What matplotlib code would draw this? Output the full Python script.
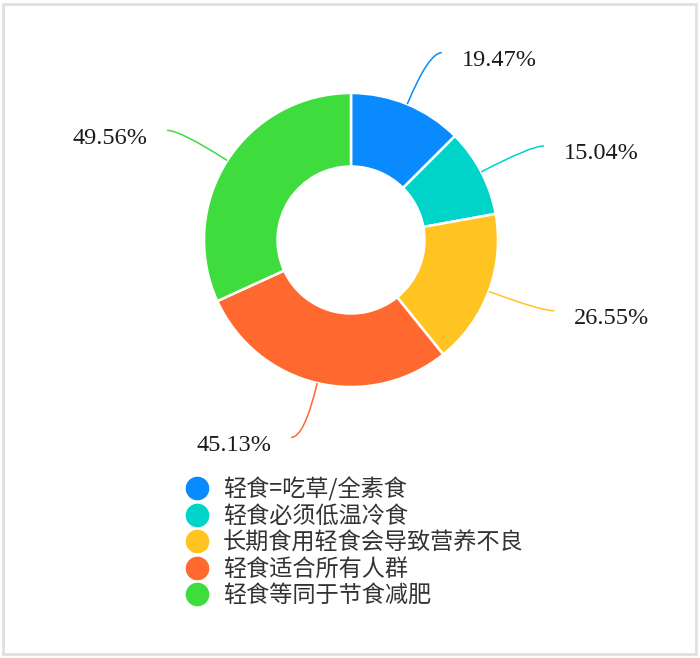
import numpy as np
import matplotlib.pyplot as plt
from matplotlib.path import Path
from matplotlib.patches import PathPatch
from matplotlib.lines import Line2D

# dados do gráfico
categories = ['轻食=吃草/全素食', '轻食必须低温冷食', '长期食用轻食会导致营养不良',
              '轻食适合所有人群', '轻食等同于节食减肥']
values = [19.47, 15.04, 26.55, 45.13, 49.56]
value_labels = ['19.47%', '15.04%', '26.55%', '45.13%', '49.56%']
colors = ['#0A8AFF', '#00D4C8', '#FFC422', '#FF682E', '#3EDC3C']

W, H = 700, 658
cx, cy = 351, 240      # centro em pixels (a partir do topo)
R = 147.0              # raio externo em pixels

fig = plt.figure(figsize=(W / 100, H / 100), dpi=100)
ax = fig.add_axes([0, 0, 1, 1])

wedges, _ = ax.pie(values, colors=colors, startangle=90, counterclock=False,
                   radius=1.0, wedgeprops=dict(width=0.5, edgecolor='white', linewidth=1.8))

# pie() mexe nos limites, então define depois
ax.set_xlim(-cx / R, (W - cx) / R)
ax.set_ylim(-(H - cy) / R, cy / R)
ax.set_aspect('equal')
ax.axis('off')

# linhas de chamada suaves
L1, L2 = 0.38, 0.09
px = 1 / R
for w, lab, col in zip(wedges, value_labels, colors):
    ang = np.deg2rad((w.theta1 + w.theta2) / 2)
    x0, y0 = np.cos(ang), np.sin(ang)
    xk, yk = (1 + L1) * np.cos(ang), (1 + L1) * np.sin(ang)
    side = 1 if x0 >= 0 else -1
    xe, ye = xk + side * L2, yk
    path = Path([(x0, y0), (xk, yk), (xe, ye)], [Path.MOVETO, Path.CURVE3, Path.CURVE3])
    ax.add_patch(PathPatch(path, fill=False, edgecolor=col, linewidth=1.1))
    ax.text(xe + side * 20 * px, ye - 8 * px, lab, ha='left' if side > 0 else 'right',
            va='center', fontsize=17.5, family='Liberation Serif', color='#1a1a1a')

# legenda
handles = [Line2D([], [], marker='o', linestyle='none', markersize=16,
                  markerfacecolor=c, markeredgecolor=c) for c in colors]
fig.legend(handles, categories, loc='upper left', bbox_to_anchor=(185.5 / W, 1 - 477 / H),
           frameon=False, prop={'family': ['Noto Sans CJK SC', 'DejaVu Sans'], 'size': 16.7},
           labelspacing=0.15, handletextpad=0.62, handlelength=1.0, borderaxespad=0,
           borderpad=0, labelcolor='#333333')

# moldura cinza
fig.patches.append(plt.Rectangle((2.5 / W, 4 / H), 693 / W, 650 / H, transform=fig.transFigure,
                                 fill=False, edgecolor='#E0E0E0', linewidth=2))

fig.savefig('out.png', dpi=100)
